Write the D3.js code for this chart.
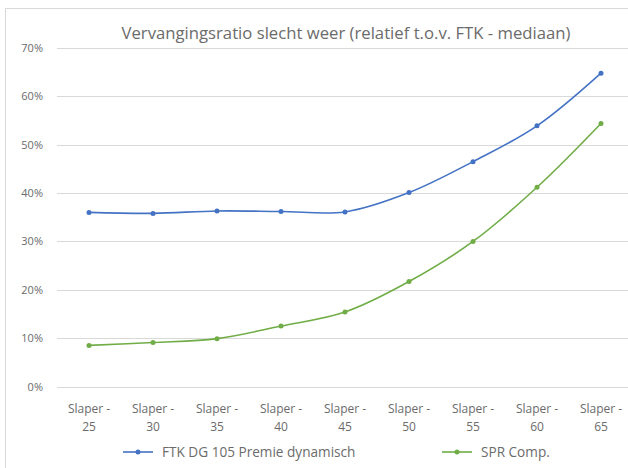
<!DOCTYPE html>
<html>
<head>
<meta charset="utf-8">
<script src="https://cdn.jsdelivr.net/npm/d3@7"></script>
<style>
  body { margin: 0; background: #fff; }
  text { font-family: "Open Sans", "Noto Sans", sans-serif; }
</style>
</head>
<body>
<div id="chart"></div>
<script>
const categories = ['Slaper - 25', 'Slaper - 30', 'Slaper - 35', 'Slaper - 40', 'Slaper - 45',
    'Slaper - 50', 'Slaper - 55', 'Slaper - 60', 'Slaper - 65'];
const ftkValues = [0.360, 0.358, 0.363, 0.362, 0.361, 0.401, 0.465, 0.539, 0.648];
const sprValues = [0.085, 0.091, 0.099, 0.125, 0.154, 0.217, 0.300, 0.412, 0.544];
const yTicks = [0, 0.1, 0.2, 0.3, 0.4, 0.5, 0.6, 0.7];
const seriesNames = ['FTK DG 105 Premie dynamisch', 'SPR Comp.'];
const seriesColors = ['#4472C4', '#70AD47'];

const W = 628, H = 468;
const margin = { top: 48, right: -5, bottom: 81, left: 57 };

const svg = d3.select('#chart').append('svg')
    .attr('width', W)
    .attr('height', H);

// chart frame
svg.append('rect')
    .attr('x', 5.5).attr('y', 8.5)
    .attr('width', W).attr('height', H)
    .attr('fill', 'none')
    .attr('stroke', '#d9d9d9');

const x = d3.scaleBand()
    .domain(categories)
    .range([margin.left, W - margin.right]);

const y = d3.scaleLinear()
    .domain([0, 0.7])
    .range([H - margin.bottom - 0.5, margin.top]);

// gridlines
svg.append('g').selectAll('line')
    .data(yTicks)
    .enter().append('line')
    .attr('x1', margin.left)
    .attr('x2', W)
    .attr('y1', (d) => Math.round(y(d)) + 0.5)
    .attr('y2', (d) => Math.round(y(d)) + 0.5)
    .attr('stroke', '#d9d9d9');

// y axis labels
svg.append('g').selectAll('text')
    .data(yTicks)
    .enter().append('text')
    .attr('x', 43)
    .attr('y', (d) => y(d) + 4)
    .attr('text-anchor', 'end')
    .attr('font-size', 11)
    .attr('fill', '#6b6b6b')
    .text(d3.format('.0%'));

// x axis labels, two lines
const xl = svg.append('g').selectAll('text')
    .data(categories)
    .enter().append('text')
    .attr('text-anchor', 'middle')
    .attr('font-size', 12)
    .attr('fill', '#6b6b6b')
    .attr('transform', (d) => `translate(${x(d) + x.bandwidth() / 2},0)`);
xl.append('tspan').attr('x', 0).attr('y', 413).text((d) => d.split(' - ')[0] + ' -');
xl.append('tspan').attr('x', 0).attr('y', 431).text((d) => d.split(' - ')[1]);

// title
svg.append('text')
    .attr('x', 346)
    .attr('y', 39)
    .attr('text-anchor', 'middle')
    .attr('font-size', 16.7)
    .attr('fill', '#6b6b6b')
    .text('Vervangingsratio slecht weer (relatief t.o.v. FTK - mediaan)');

const line = d3.line()
    .x((d, i) => x(categories[i]) + x.bandwidth() / 2)
    .y((d) => y(d))
    .curve(d3.curveCatmullRom.alpha(0.5));

[ftkValues, sprValues].forEach((vals, k) => {
    const g = svg.append('g');
    g.append('path')
        .datum(vals)
        .attr('d', line)
        .attr('fill', 'none')
        .attr('stroke', seriesColors[k])
        .attr('stroke-width', 1.6);
    g.selectAll('circle')
        .data(vals)
        .enter().append('circle')
        .attr('cx', (d, i) => x(categories[i]) + x.bandwidth() / 2)
        .attr('cy', (d) => y(d))
        .attr('r', 2.5)
        .attr('fill', seriesColors[k]);
});

// legend
const legendX = [123, 442];
const legend = svg.append('g').selectAll('g')
    .data(seriesNames)
    .enter().append('g')
    .attr('transform', (d, i) => `translate(${legendX[i]},452)`);
legend.append('line')
    .attr('x1', 0).attr('x2', 30)
    .attr('stroke', (d, i) => seriesColors[i])
    .attr('stroke-width', 1.6);
legend.append('circle')
    .attr('cx', 15).attr('r', 2.5)
    .attr('fill', (d, i) => seriesColors[i]);
legend.append('text')
    .attr('x', 39).attr('y', 5)
    .attr('font-size', 13.6)
    .attr('fill', '#6b6b6b')
    .text((d) => d);
</script>
</body>
</html>
